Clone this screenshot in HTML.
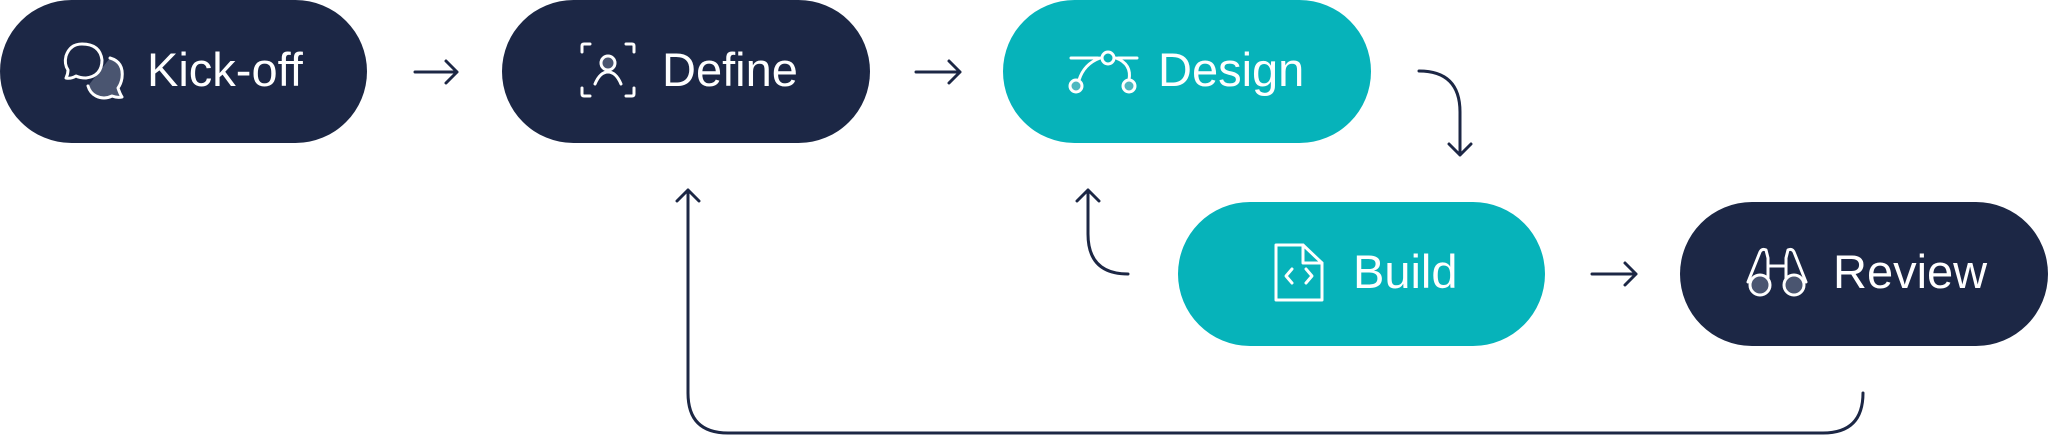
<!DOCTYPE html>
<html><head><meta charset="utf-8"><style>
html,body{margin:0;padding:0;background:#fff;}
svg{display:block}
text{font-family:"Liberation Sans",sans-serif;font-size:47px;fill:#fff;}
</style></head><body>
<svg width="2048" height="436" viewBox="0 0 2048 436" xmlns="http://www.w3.org/2000/svg">
<g>
<rect x="0" y="0" width="367" height="143" rx="71.5" fill="#1c2745"/>
<rect x="502" y="0" width="368" height="143" rx="71.5" fill="#1c2745"/>
<rect x="1003" y="0" width="368" height="143" rx="71.5" fill="#06b3ba"/>
<rect x="1178" y="202" width="367" height="144" rx="72" fill="#06b3ba"/>
<rect x="1680" y="202" width="368" height="144" rx="72" fill="#1c2745"/>
</g>
<text x="147" y="86">Kick-off</text>
<text x="662" y="86">Define</text>
<text x="1158" y="86">Design</text>
<text x="1353" y="288">Build</text>
<text x="1833" y="288">Review</text>
<g fill="none" stroke="#1c2745" stroke-width="3" stroke-linecap="round" stroke-linejoin="round">
<path d="M415 72H457M446 61L457 72L446 83"/>
<path d="M916 72H960M949 61L960 72L949 83"/>
<path d="M1592 274H1636M1625 263L1636 274L1625 285"/>
<path d="M1419 71Q1460 71 1460 112V155M1449 144L1460 155L1471 144"/>
<path d="M1128 274Q1088 274 1088 234V190M1077 201L1088 190L1099 201"/>
<path d="M1863 393Q1863 433 1823 433H728Q688 433 688 393V190M677 201L688 190L699 201"/>
</g>
<g fill="none" stroke="#fff" stroke-width="3" stroke-linecap="round" stroke-linejoin="round">
<!-- kick-off -->
<path d="M110 58Q124 62 122 78Q121 84 118 88Q120 94 122 97Q117 98 112 96Q104 100 96 96Q90 93 88 86" fill="#4a5570"/>
<path d="M82 44Q100 44 102 60Q102 76 86 78Q80 78 76 76Q71 79 66 78Q68 74 68 70Q64 64 66 56Q70 44 82 44Z" fill="#1c2745"/>
<!-- define -->
<path d="M582 52V46Q582 44 584 44H590M626 44H632Q634 44 634 46V52M634 88V94Q634 96 632 96H626M590 96H584Q582 96 582 94V88"/>
<circle cx="608" cy="63" r="7" fill="#4a5570"/>
<path d="M595 84Q600 72 608 72Q616 72 621 84"/>
<!-- design -->
<path d="M1071 58H1098M1118 58H1137"/>
<circle cx="1108" cy="58" r="6"/>
<path d="M1079 80Q1084 64 1100 58M1116 58Q1132 64 1129 80"/>
<circle cx="1076" cy="86" r="6" fill="#4db8c0"/>
<circle cx="1129" cy="86" r="6" fill="#4db8c0"/>
<!-- build -->
<path d="M1276 245H1303L1322 263V300H1276Z"/>
<path d="M1303 245V263H1322"/>
<path d="M1292 269L1286 276L1292 283M1306 269L1312 276L1306 283"/>
<!-- review -->
<path d="M1748 282L1760 252Q1762 248 1766 250L1768 258V284M1806 282L1794 252Q1792 248 1788 250L1786 258V284M1768 266H1786"/>
<circle cx="1760" cy="285" r="10" fill="#4a5570"/>
<circle cx="1794" cy="285" r="10" fill="#4a5570"/>
</g>
</svg>
</body></html>
